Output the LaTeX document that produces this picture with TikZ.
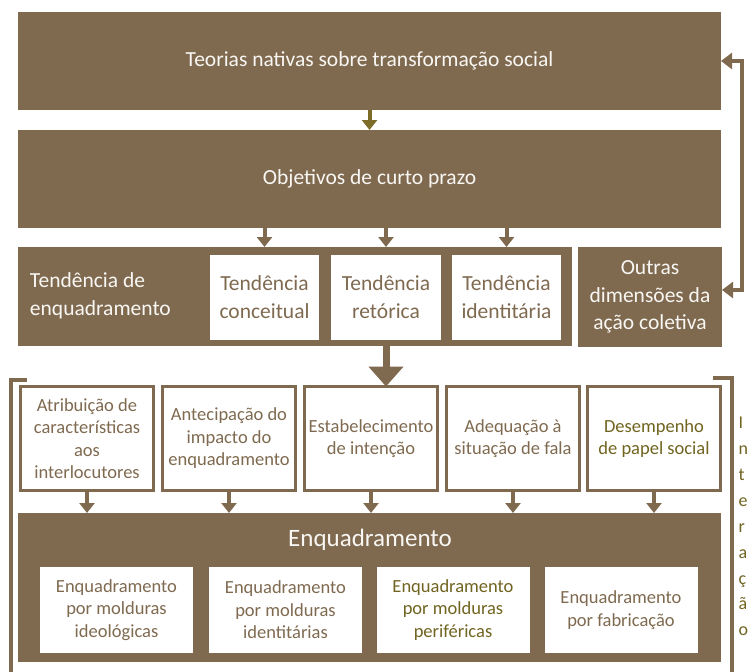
\documentclass[tikz,border=0pt]{standalone}
\usepackage{fontspec}
\setmainfont{Carlito}
\usetikzlibrary{arrows.meta}
\definecolor{brn}{RGB}{127,106,80}
\definecolor{olv}{RGB}{112,100,32}
\definecolor{olvarr}{RGB}{124,108,40}
\definecolor{wtxt}{RGB}{249,247,243}
\begin{document}
\begin{tikzpicture}[x=1pt,y=-1pt,
  box/.style={inner sep=0pt,outer sep=0pt,align=center},
  fillbox/.style={box,fill=brn,text=wtxt,font=\fontsize{21.5}{27.5}\selectfont},
  tbox/.style={box,fill=white,text=brn,font=\fontsize{21.5}{28}\selectfont,minimum height=85pt},
  rowbox/.style={box,draw=brn,line width=3pt,fill=white,text=brn,font=\fontsize{18.5}{22.5}\selectfont,minimum width=133pt,minimum height=104pt},
  ebox/.style={box,fill=white,text=brn,font=\fontsize{18.5}{22.5}\selectfont,minimum width=153pt,minimum height=86pt},
  arr/.style={draw=brn,line width=4pt,-{Triangle[length=10pt,width=15pt]}},
  bigarr/.style={draw=brn,line width=7pt,-{Triangle[length=20pt,width=34pt]}},
  fbarr/.style={draw=brn,line width=4pt,line join=miter,{Triangle[length=11pt,width=16pt]}-{Triangle[length=11pt,width=16pt]}},
  brk/.style={draw=brn,line width=3.5pt,line join=miter}
]
\useasboundingbox (0,0) rectangle (748,672);

% top boxes
\node[fillbox,minimum width=703pt,minimum height=98pt] (top) at (369.5,61) {Teorias nativas sobre transformação social};
\node[fillbox,minimum width=703pt,minimum height=98pt] (obj) at (369.5,179) {Objetivos de curto prazo};

% tendencia
\node[fillbox,minimum width=554pt,minimum height=99pt] (tend) at (295,296.5) {};
\node[box,text=wtxt,font=\fontsize{21.5}{28}\selectfont,align=left,anchor=west] (tendlbl) at (30,296) {Tendência de\\enquadramento};
\node[tbox,minimum width=109pt] (tc) at (264.5,297.5) {Tendência\\conceitual};
\node[tbox,minimum width=110pt] (tr) at (386,297.5) {Tendência\\retórica};
\node[tbox,minimum width=109pt] (ti) at (506.5,297.5) {Tendência\\identitária};

\node[fillbox,minimum width=144pt,minimum height=100pt] (outras) at (650,297) {Outras\\dimensões da\\ação coletiva};

% row boxes
\node[rowbox] (b1) at (87,438.5) {Atribuição de\\características\\aos\\interlocutores};
\node[rowbox] (b2) at (229,438.5) {Antecipação do\\impacto do\\enquadramento};
\node[rowbox] (b3) at (371,438.5) {Estabelecimento\\de intenção};
\node[rowbox] (b4) at (513,438.5) {Adequação à\\situação de fala};
\node[rowbox,text=olv] (b5) at (654,438.5) {Desempenho\\de papel social};

% enquadramento
\node[fillbox,minimum width=703pt,minimum height=149pt] (enq) at (369.5,587.5) {};
\node[box,text=wtxt,font=\fontsize{25}{30}\selectfont] (enqt) at (370,540) {Enquadramento};
\node[ebox] (e1) at (116.5,610) {Enquadramento\\por molduras\\ideológicas};
\node[ebox] (e2) at (285.5,610) {Enquadramento\\por molduras\\identitárias};
\node[ebox,text=olv] (e3) at (453,610) {Enquadramento\\por molduras\\periféricas};
\node[ebox] (e4) at (621,610) {Enquadramento\\por fabricação};

% vertical text
\node[box,text=olv,font=\fontsize{18}{25.9}\selectfont,align=left,anchor=west] (inter) at (738.5,526.5) {I\\n\\t\\e\\r\\a\\ç\\ã\\o};

% arrows
\draw[arr,draw=olvarr] (top.south) -- (obj.north);
\draw[arr] (tc.north |- obj.south) -- (tc.north |- tend.north);
\draw[arr] (tr.north |- obj.south) -- (tr.north |- tend.north);
\draw[arr] (ti.north |- obj.south) -- (ti.north |- tend.north);
\draw[bigarr] (tr.south |- tend.south) -- (tr.south |- b3.north);
\foreach \b in {b1,b2,b3,b4,b5}
  \draw[arr] (\b.south) -- (\b.south |- enq.north);
\draw[fbarr] ([yshift=7pt]outras.east) -- ++(20,0) |- (top.east);

% brackets
\draw[brk] (27,380) -- (11,380) -- (11,672);
\draw[brk] (713,378) -- (732,378) -- (732,672);
\end{tikzpicture}
\end{document}
